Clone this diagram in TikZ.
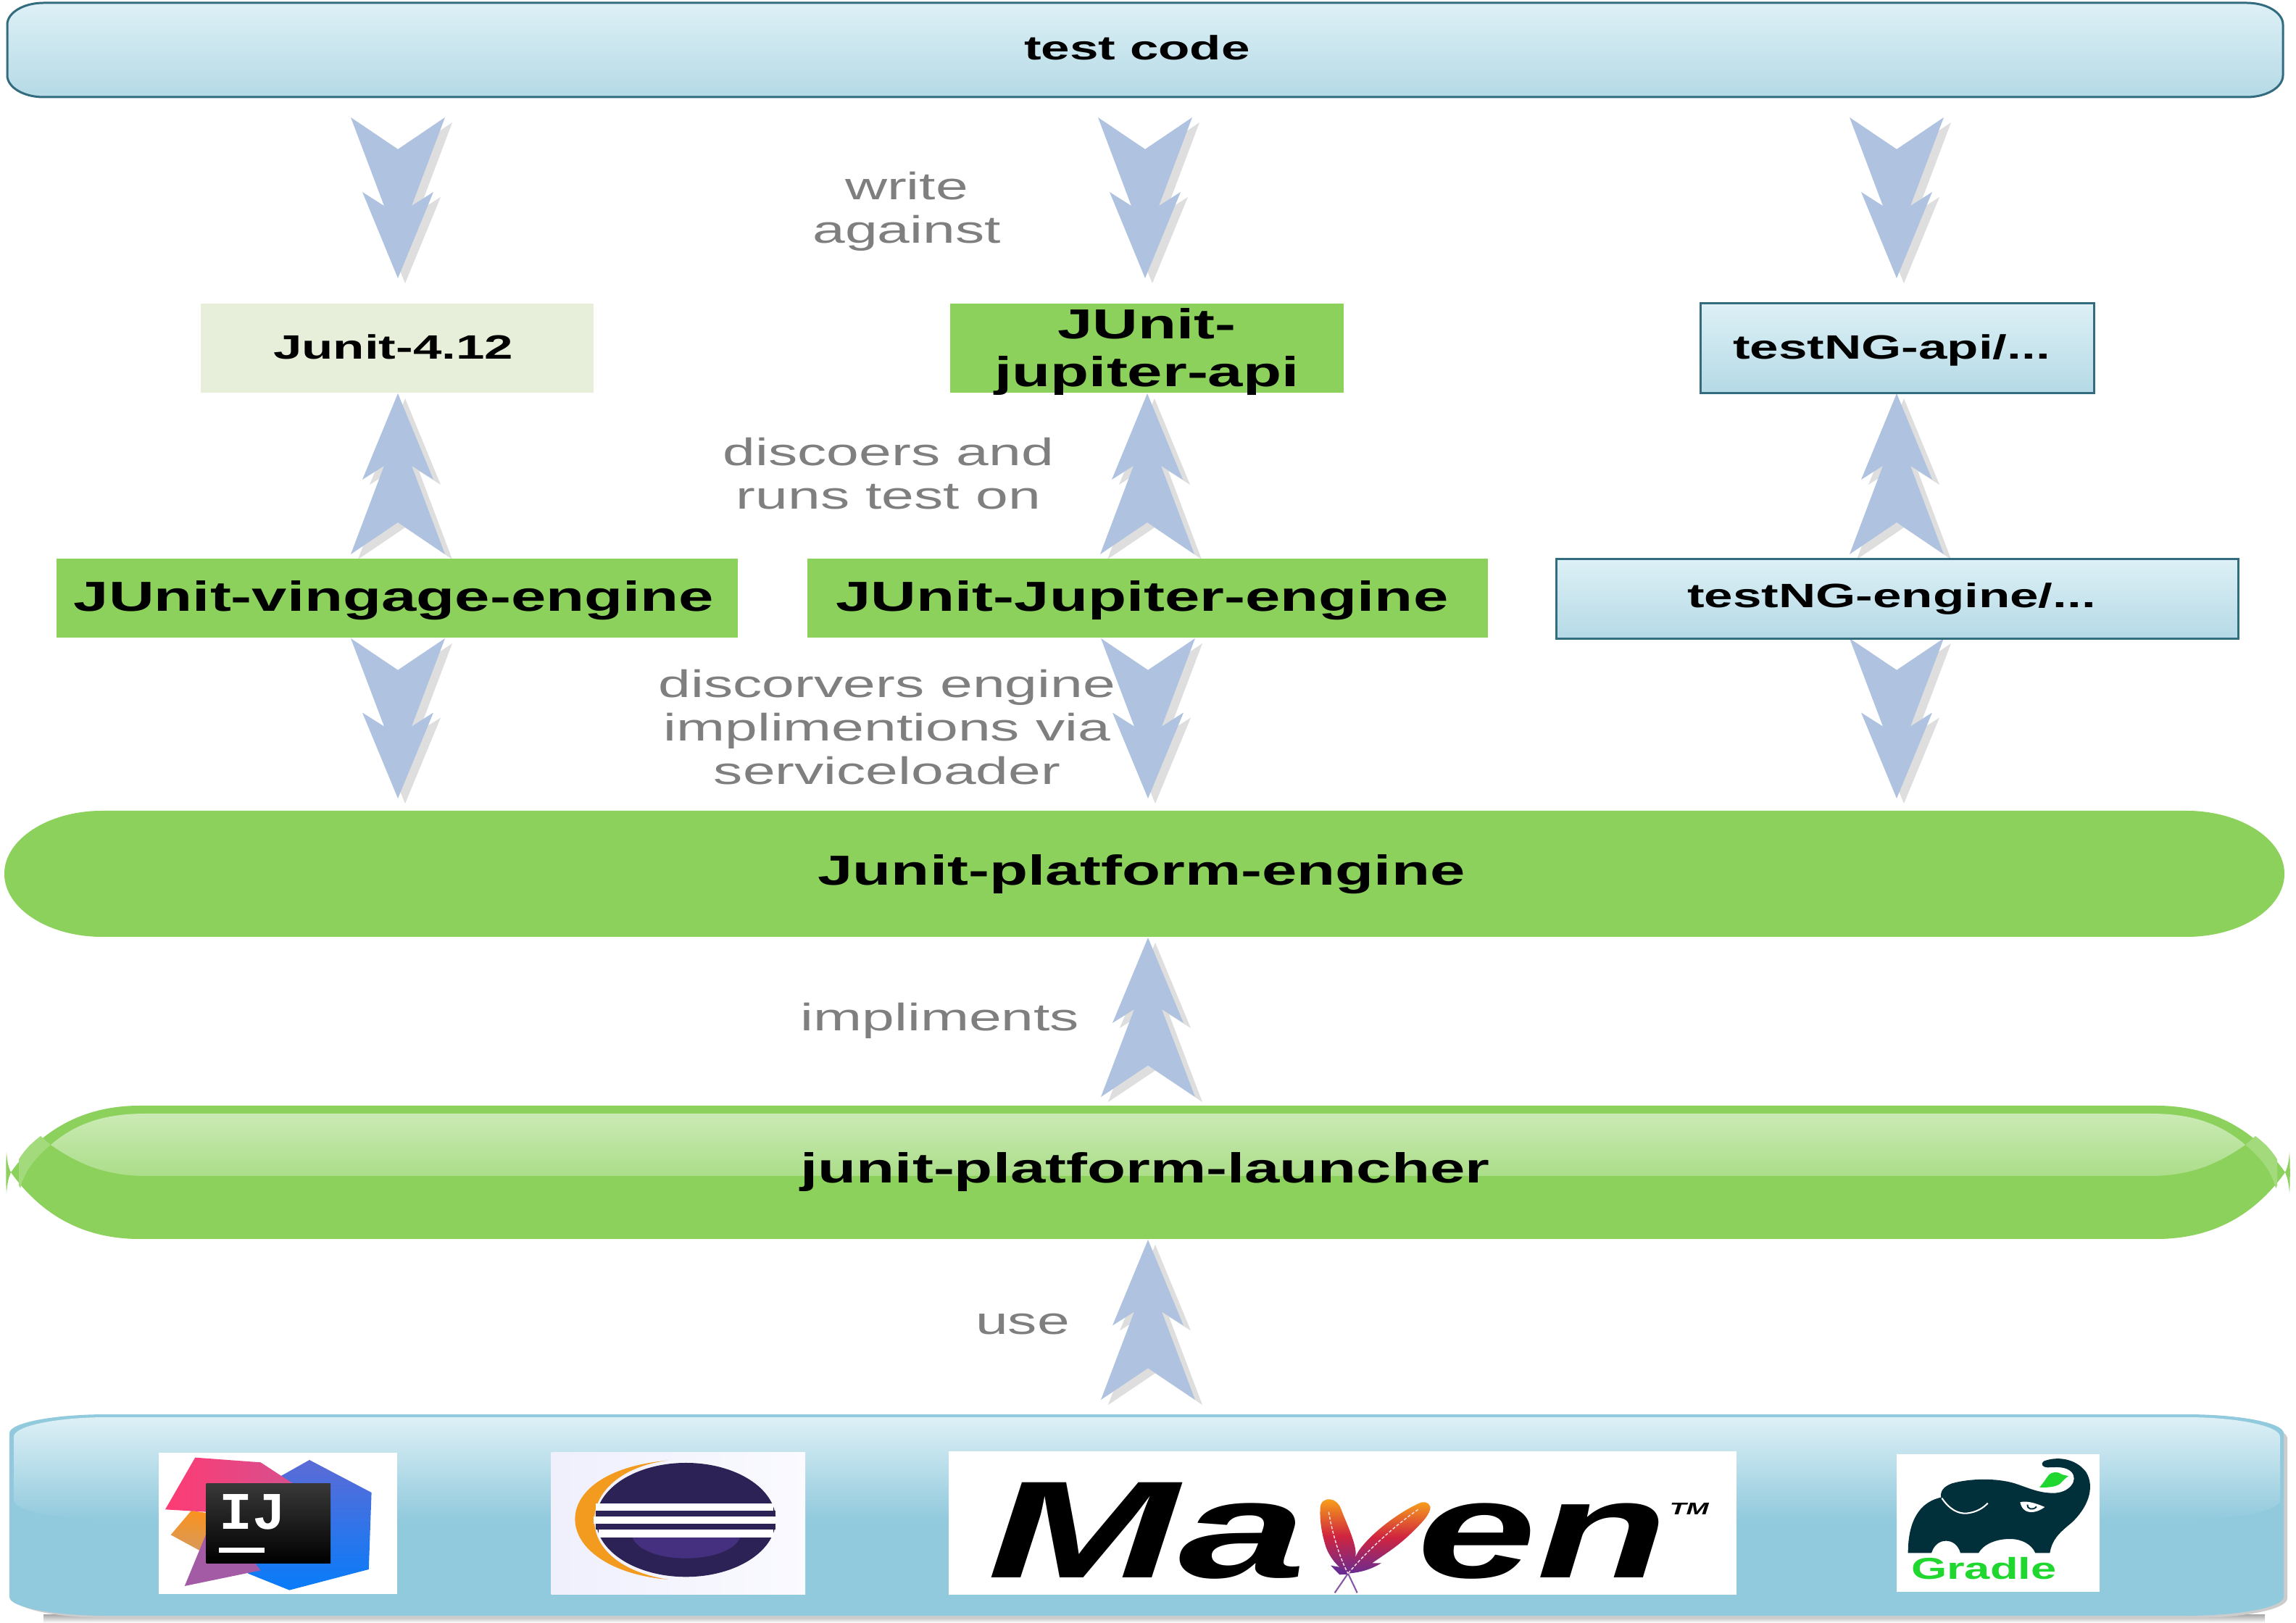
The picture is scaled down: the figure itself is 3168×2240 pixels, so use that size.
\documentclass[tikz,border=0pt]{standalone}
\usepackage{fontspec}
\usepackage{graphicx}
\usetikzlibrary{calc}
\setmainfont{Liberation Sans}
\newfontfamily\monofnt{Liberation Mono}
\definecolor{gr}{HTML}{8BD15B}
\definecolor{pale}{HTML}{E7EFDA}
\definecolor{bluetop}{HTML}{DDF0F6}
\definecolor{bluebot}{HTML}{B5DAE6}
\definecolor{teal}{HTML}{336B7F}
\definecolor{panel}{HTML}{92CADD}
\definecolor{arrowblue}{HTML}{AFC3E0}
\definecolor{arrowgrey}{HTML}{DEDEDE}
\definecolor{greytxt}{HTML}{7F7F7F}
\definecolor{ecldark}{HTML}{2C2255}
\definecolor{eclmid}{HTML}{44307F}
\definecolor{eclorange}{HTML}{F29B1E}
\definecolor{gradledark}{HTML}{02303A}
\definecolor{gradlegreen}{HTML}{1FD72F}
\definecolor{ijpink}{HTML}{FE3B74}
\definecolor{ijpinkb}{HTML}{D6508E}
\definecolor{ijbluet}{HTML}{5C6BD6}
\definecolor{ijblueb}{HTML}{087CFA}
\definecolor{ijorange}{HTML}{F9921E}
\definecolor{ijorangeb}{HTML}{D99A5A}
\definecolor{ijviolet}{HTML}{A35BA5}
\definecolor{fea1}{HTML}{F7A11A}
\definecolor{fea2}{HTML}{D0243F}
\definecolor{fea3}{HTML}{6A2C91}
\tikzset{
  greenbox/.style={fill=gr,inner sep=0pt},
  palebox/.style={fill=pale,inner sep=0pt},
  tealbox/.style={draw=teal,line width=.72pt,top color=bluetop,bottom color=bluebot,inner sep=0pt},
  lbl/.style={anchor=base,inner sep=0pt},
  feather/.style={top color=fea1,bottom color=fea3,middle color=fea2},
}
\newcommand\bigtx[1]{\scalebox{1.5}[1]{\fontsize{13.9}{15.84}\selectfont\bfseries #1}}
\newcommand\smalltx[1]{\scalebox{1.52}[1]{\fontsize{11.2}{13}\selectfont\bfseries #1}}
\newcommand\greytx[1]{\scalebox{1.52}[1]{\fontsize{12.7}{14.4}\selectfont\color{greytxt}\begin{tabular}[t]{@{}c@{}}#1\end{tabular}}}
% path of a box with elliptical corners: x1,y1,x2,y2,rx,ry
\newcommand\epath[6]{(#1+#5,#2) -- (#3-#5,#2) .. controls +(.55*#5,0) and +(0,-.55*#6) .. (#3,#2+#6)
  -- (#3,#4-#6) .. controls +(0,.55*#6) and +(.55*#5,0) .. (#3-#5,#4)
  -- (#1+#5,#4) .. controls +(-.55*#5,0) and +(0,.55*#6) .. (#1,#4-#6)
  -- (#1,#2+#6) .. controls +(0,-.55*#6) and +(-.55*#5,0) .. cycle}
\newcommand\fatpoly[4]{
  ($(#1)+(-65+#3,#4)$) -- ($(#1)!.198!(#2)+(#3,#4)$) -- ($(#1)+(65+#3,#4)$) -- ($(#1)!.55!(#2)+(19+#3,#4)$)
  -- ($(#1)!.464!(#2)+(49+#3,#4)$) -- ($(#2)+(#3,#4)$) -- ($(#1)!.464!(#2)+(-49+#3,#4)$) -- ($(#1)!.55!(#2)+(-19+#3,#4)$) -- cycle}
\newcommand\fatarrow[2]{
  \fill[arrowgrey] \fatpoly{#1}{#2}{10}{7};
  \fill[arrowblue] \fatpoly{#1}{#2}{0}{0};
}
\begin{document}
\begin{tikzpicture}[x=.24pt,y=-.24pt]
\useasboundingbox (0,0) rectangle (3168,2240);
\fill[white] (0,0) rectangle (3168,2240);

% top bar
\draw[draw=teal,line width=.72pt,top color=bluetop,bottom color=bluebot] \epath{10}{4}{3150}{134}{50}{30};
\node[lbl] (test) at (1569,83) {\smalltx{test code}};

% arrow end points
\coordinate (a1t) at (549,162);  \coordinate (a1h) at (549,384);
\coordinate (a2t) at (1580,162); \coordinate (a2h) at (1580,384);
\coordinate (a3t) at (2617,162); \coordinate (a3h) at (2617,384);
\coordinate (u1t) at (549,765);  \coordinate (u1h) at (549,543);
\coordinate (u2t) at (1583,765); \coordinate (u2h) at (1583,543);
\coordinate (u3t) at (2617,765); \coordinate (u3h) at (2617,543);
\coordinate (d1t) at (549,881);  \coordinate (d1h) at (549,1102);
\coordinate (d2t) at (1584,881); \coordinate (d2h) at (1584,1102);
\coordinate (d3t) at (2617,881); \coordinate (d3h) at (2617,1102);
\coordinate (it) at (1584,1514); \coordinate (ih) at (1584,1294);
\coordinate (ut) at (1584,1932); \coordinate (uh) at (1584,1711);

\fatarrow{a1t}{a1h} \fatarrow{a2t}{a2h} \fatarrow{a3t}{a3h}
\fatarrow{u1t}{u1h} \fatarrow{u2t}{u2h} \fatarrow{u3t}{u3h}
\fatarrow{d1t}{d1h} \fatarrow{d2t}{d2h} \fatarrow{d3t}{d3h}
\fatarrow{it}{ih} \fatarrow{ut}{uh}

% second row
\node[palebox,minimum width=542*.24pt,minimum height=123*.24pt,text depth=0pt,text height=7.2pt] (j412) at (548,480.5)
  {\hspace*{-2.6pt}\smalltx{Junit-4.12}};
\node[greenbox,minimum width=543*.24pt,minimum height=123*.24pt,text depth=0pt,text height=25.66pt] (japi) at (1582.5,480.5)
  {\bigtx{\begin{tabular}[b]{@{}c@{}}JUnit-\\jupiter-api\end{tabular}}};
\node[tealbox,minimum width=543*.24pt,minimum height=124*.24pt,text depth=0pt,text height=7.2pt] (ngapi) at (2617.5,480.5)
  {\hspace*{-3.6pt}\smalltx{testNG-api/...}};

% third row
\node[greenbox,minimum width=940*.24pt,minimum height=109*.24pt,text depth=0pt,text height=8.4pt] (vint) at (548,826)
  {\hspace*{-2.2pt}\bigtx{JUnit-vingage-engine}};
\node[greenbox,minimum width=939*.24pt,minimum height=109*.24pt,text depth=0pt,text height=8.4pt] (jup) at (1583.5,826)
  {\hspace*{-3.6pt}\bigtx{JUnit-Jupiter-engine}};
\node[tealbox,minimum width=941*.24pt,minimum height=110*.24pt,text depth=0pt,text height=6pt] (ngeng) at (2617.5,826.5)
  {\hspace*{-3.6pt}\smalltx{testNG-engine/...}};

% labels
\node[lbl] (write) at (1251,276) {\greytx{write\\against}};
\node[lbl] (disc) at (1226,643) {\greytx{discoers and\\runs test on}};
\node[lbl] (impl) at (1224,963) {\greytx{discorvers engine\\implimentions via\\serviceloader}};
\node[lbl] (impls) at (1297,1423) {\greytx{impliments}};
\node[lbl] (use) at (1411,1842) {\greytx{use}};

% platform engine
\fill[gr] \epath{6}{1119}{3152}{1293}{135}{87};
\node[lbl] (pe) at (1575,1222) {\bigtx{Junit-platform-engine}};

% launcher
\fill[gr] (193,1526) -- (2975,1526) .. controls (3048,1526) and (3108,1555) .. (3153,1618)
  .. controls (3108,1681) and (3048,1710) .. (2975,1710) -- (193,1710)
  .. controls (120,1710) and (60,1681) .. (15,1618) .. controls (60,1555) and (120,1526) .. (193,1526) -- cycle;
\foreach \m in {0,1}{
\begin{scope}[shift={(\m*3168,0)},xscale=1-2*\m]
  \fill[gr] (9,1590) .. controls (10,1605) and (12,1612) .. (15,1618) .. controls (12,1625) and (10,1632) .. (9,1647) .. controls (8,1632) and (8,1605) .. (9,1590) -- cycle;
  \fill[gr!80!white] (56,1568) -- (70,1580) .. controls (50,1597) and (34,1615) .. (28,1640) -- (26,1636) -- (26,1600) .. controls (34,1587) and (44,1577) .. (56,1568) -- cycle;
\end{scope}}
\path[top color=gr!45!white,bottom color=gr!72!white]
  (70,1580) .. controls (105,1550) and (145,1537) .. (200,1537) -- (2968,1537)
  .. controls (3023,1537) and (3063,1550) .. (3098,1580)
  .. controls (3063,1605) and (3023,1623) .. (2968,1623) -- (200,1623)
  .. controls (145,1623) and (105,1605) .. (70,1580) -- cycle;
\node[lbl] (la) at (1580,1633) {\bigtx{junit-platform-launcher}};

% bottom panel
\shade[top color=black!35,bottom color=white] (60,2228) rectangle (3125,2240);
\fill[black!20] \epath{20}{1958}{3156}{2233}{130}{27};
\fill[panel] \epath{13}{1952}{3151}{2230}{135}{26};
\path[top color=bluetop,bottom color=panel] \epath{19}{1956}{3146}{2097}{130}{27};

% IntelliJ logo
\fill[white] (219,2005) rectangle (548,2200);
\begin{scope}[shift={(0,1920)},xscale=.7651,yscale=.3333]
  \path[top color=ijorange,bottom color=ijorangeb] (345,495) -- (308,595) -- (360,660) -- (420,520) -- cycle;
  \path[top color=ijbluet,bottom color=ijblueb] (558,285) -- (670,420) -- (665,738) -- (522,824) -- (447,755) -- (500,360) -- cycle;
  \fill[ijviolet] (372,590) -- (333,807) -- (470,742) -- (420,590) -- cycle;
  \path[left color=ijpink,right color=ijpinkb] (352,275) -- (470,295) -- (530,385) -- (530,450) -- (372,500) -- (298,490) -- cycle;
  \path[top color=black!78,bottom color=black] (372,384) rectangle (596,713);
  \fill[white] (395,647) rectangle (477,668);
  \node[lbl] (ij) at (455,572) {\scalebox{1.05}[1]{\fontsize{17.5}{20}\selectfont\monofnt\bfseries\color{white} IJ}};
\end{scope}

% Eclipse logo
\path[left color=black!12!blue!6!white,right color=black!3!blue!2!white] (760.5,2004) rectangle (1111,2200.7);
\begin{scope}[shift={(0,1920)},xscale=.7651,yscale=.3333]
  \fill[eclorange] (1205,287) .. controls (1090,310) and (1037,420) .. (1037,530) .. controls (1037,650) and (1100,760) .. (1205,780) .. controls (1120,750) and (1070,650) .. (1072,530) .. controls (1072,420) and (1120,310) .. (1205,287) -- cycle;
  \fill[ecldark] (1237,533) ellipse [x radius=162, y radius=236];
  \fill[eclmid] (1140,605) .. controls (1150,660) and (1190,692) .. (1236,692) .. controls (1285,692) and (1325,660) .. (1335,605) -- cycle;
  \fill[ecldark] (1075,495) rectangle (1398,518);
  \fill[ecldark] (1075,550) rectangle (1398,572);
  \fill[white] (1075,465) rectangle (1395,494);
  \fill[white] (1070,519) rectangle (1400,549);
  \fill[white] (1080,574) rectangle (1395,605);
\end{scope}

% Maven logo
\fill[white] (1309,2003) rectangle (2396,2200.7);
\node[lbl,anchor=base west] (mvn1) at (1362,2177) {\scalebox{1.66}[1]{\fontsize{45.8}{50}\selectfont\bfseries\itshape Ma}};
\node[lbl,anchor=base west] (mvn2) at (1955,2177) {\scalebox{1.55}[1]{\fontsize{45.8}{50}\selectfont\bfseries\itshape en}};
\node[lbl,anchor=base west] (mvn3) at (2303,2090) {\scalebox{1.6}[1]{\fontsize{5.6}{6}\selectfont\bfseries\itshape TM}};
\begin{scope}[shift={(1780,2050)},scale=.3333]
  \draw[fea3!80!white,line width=.5pt] (240,365) -- (185,445) (240,365) -- (278,445);
  \fill[fea3] (168,332) -- (225,342) -- (242,368) -- (205,370) -- cycle;
  \path[feather]
    (125,95) .. controls (125,65) and (150,55) .. (165,58) .. controls (190,60) and (205,80) .. (212,100)
    .. controls (230,150) and (270,230) .. (272,280) .. controls (272,310) and (255,340) .. (240,365)
    .. controls (215,350) and (175,320) .. (150,260) .. controls (130,200) and (122,140) .. (125,95) -- cycle;
  \path[feather]
    (580,100) .. controls (585,80) and (565,65) .. (545,70) .. controls (480,95) and (350,180) .. (285,270)
    .. controls (265,305) and (250,330) .. (240,365) .. controls (300,360) and (340,345) .. (378,322)
    -- (340,322) .. controls (400,280) and (450,250) .. (510,190) .. controls (550,150) and (570,130) .. (580,100) -- cycle;
  \draw[white!85!fea2,line width=.35pt,dashed,dash pattern=on 1pt off .6pt] (160,110) .. controls (175,200) and (205,300) .. (240,365);
  \draw[white!85!fea2,line width=.35pt,dashed,dash pattern=on 1pt off .6pt] (530,100) .. controls (430,170) and (320,270) .. (240,365);
\end{scope}

% Gradle logo
\fill[white] (2617,2007) rectangle (2897,2197);
\begin{scope}[shift={(2610,2000)},scale=.3333]
  \fill[gradledark]
    (68,430) .. controls (68,340) and (90,225) .. (205,200)
    .. controls (200,175) and (215,155) .. (250,142)
    .. controls (320,122) and (430,118) .. (510,142)
    .. controls (570,162) and (610,182) .. (670,182)
    .. controls (735,182) and (775,130) .. (745,95)
    .. controls (720,70) and (680,75) .. (645,76)
    .. controls (625,76) and (615,60) .. (630,50)
    .. controls (680,30) and (760,35) .. (805,95)
    .. controls (845,160) and (810,245) .. (745,305)
    .. controls (690,350) and (665,375) .. (655,430)
    -- (595,430) .. controls (580,395) and (540,372) .. (490,372)
    .. controls (430,372) and (380,395) .. (360,430)
    -- (285,430) .. controls (275,395) and (250,380) .. (225,380)
    .. controls (195,380) and (175,400) .. (165,430) -- cycle;
  \fill[gradlegreen] (612,158) .. controls (630,140) and (640,120) .. (650,108) .. controls (665,92) and (690,92) .. (705,105) -- (732,112)
    .. controls (718,120) and (712,130) .. (695,145) .. controls (675,158) and (640,160) .. (612,158) -- cycle;
  \draw[white,line width=.5pt] (208,203) .. controls (240,250) and (275,268) .. (310,266) .. controls (350,262) and (378,245) .. (398,224);
  \fill[white] (532,220) .. controls (560,212) and (600,225) .. (634,240) .. controls (605,262) and (570,268) .. (550,252) .. controls (540,245) and (535,232) .. (532,220) -- cycle;
  \draw[gradledark,line width=.45pt] (562,230) .. controls (560,248) and (585,256) .. (600,238);
  \node[lbl] (grd) at (382,540) {\scalebox{1.52}[1]{\fontsize{10}{12}\selectfont\bfseries\color{gradlegreen} Gradle}};
\end{scope}
\end{tikzpicture}
\end{document}
